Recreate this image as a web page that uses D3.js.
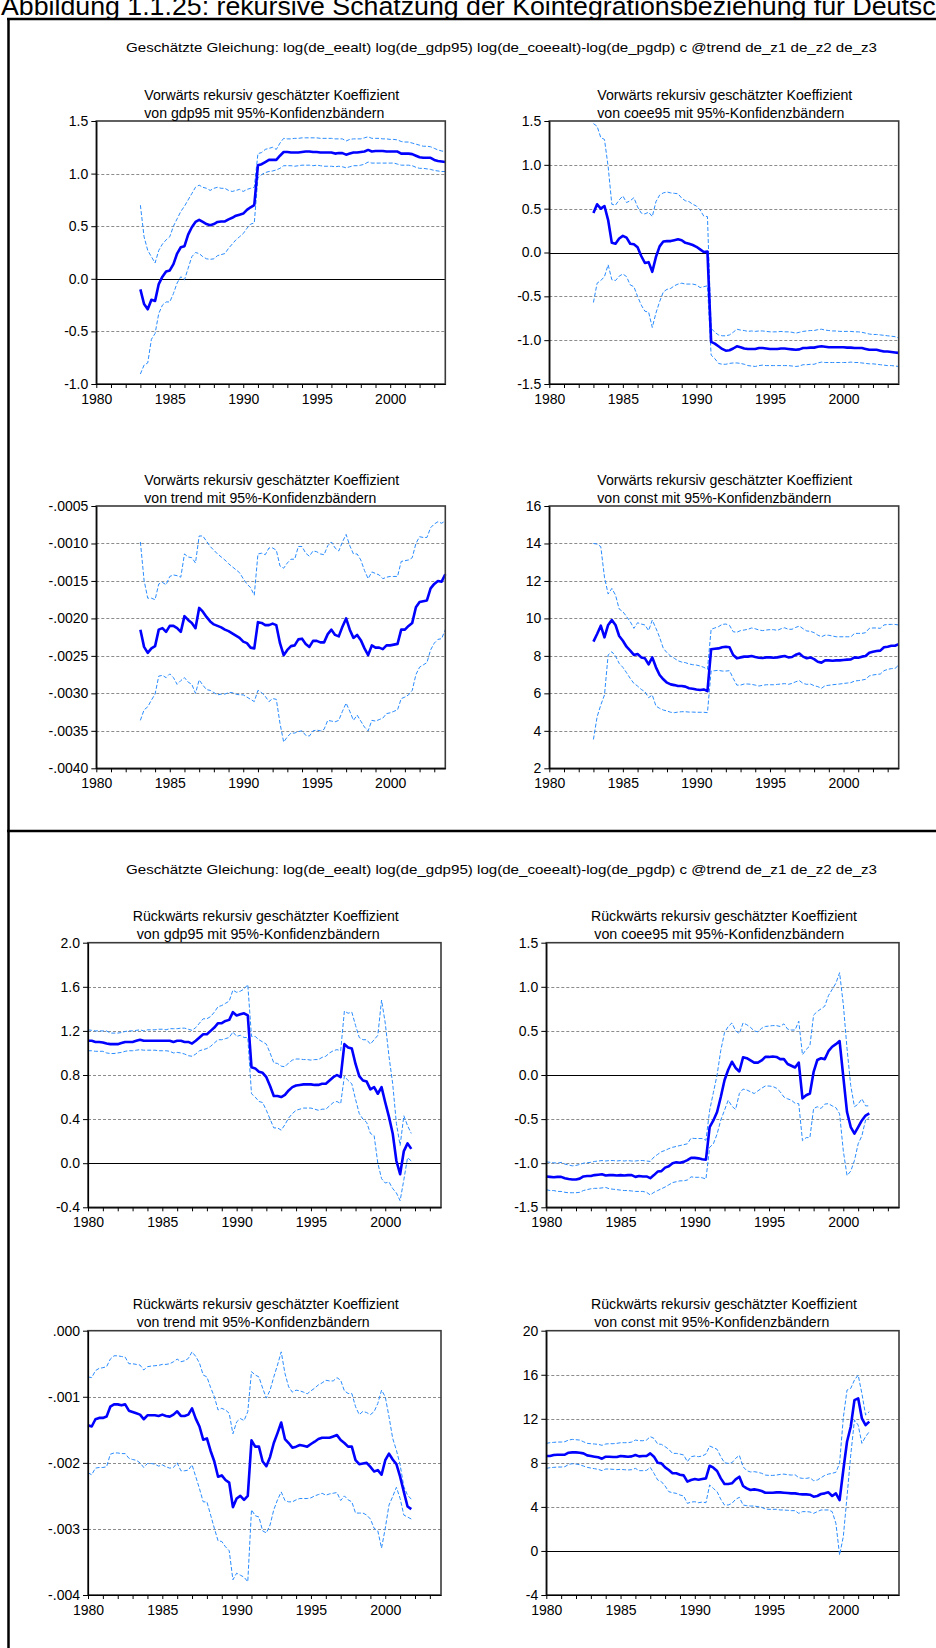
<!DOCTYPE html>
<html>
<head>
<meta charset="utf-8">
<script src="https://cdn.jsdelivr.net/npm/d3@7"></script>
<style>
body { margin: 0; background: #fff; }
</style>
</head>
<body>
<div id="chart"></div>
<script>
// quarterly estimates, forward recursion runs 1983Q1-2003Q4, backward 1980Q1-2001Q4
var fwdStart = 1983;
var bwdStart = 1980;

var headline = "Abbildung 1.1.25: rekursive Schätzung der Kointegrationsbeziehung für Deutschland";
var equation = "Geschätzte Gleichung: log(de_eealt) log(de_gdp95) log(de_coeealt)-log(de_pgdp) c @trend  de_z1 de_z2 de_z3";
var fwdTitle = "Vorwärts rekursiv geschätzter Koeffizient";
var bwdTitle = "Rückwärts rekursiv geschätzter Koeffizient";
var subTitles = ["von gdp95 mit 95%-Konfidenzbändern", "von coee95 mit 95%-Konfidenzbändern",
                 "von trend mit 95%-Konfidenzbändern", "von const mit 95%-Konfidenzbändern"];

var yearTicks = [1980, 1981, 1982, 1983, 1984, 1985, 1986, 1987, 1988, 1989, 1990, 1991,
                 1992, 1993, 1994, 1995, 1996, 1997, 1998, 1999, 2000, 2001, 2002, 2003];
var yearLabels = [1980, 1985, 1990, 1995, 2000];

var fwdGdpTicks = [-1.0, -0.5, 0.0, 0.5, 1.0, 1.5];
var fwdCoeTicks = [-1.5, -1.0, -0.5, 0.0, 0.5, 1.0, 1.5];
var fwdTrendTicks = [-.0040, -.0035, -.0030, -.0025, -.0020, -.0015, -.0010, -.0005];
var fwdConstTicks = [2, 4, 6, 8, 10, 12, 14, 16];
var bwdGdpTicks = [-0.4, 0.0, 0.4, 0.8, 1.2, 1.6, 2.0];
var bwdCoeTicks = [-1.5, -1.0, -0.5, 0.0, 0.5, 1.0, 1.5];
var bwdTrendTicks = [-.004, -.003, -.002, -.001, .000];
var bwdConstTicks = [-4, 0, 4, 8, 12, 16, 20];

// forward: gdp95
var fwdGdpCoef = [
 -0.10, -0.24, -0.29, -0.20,  -0.21, -0.05, 0.02, 0.07,  0.08, 0.14, 0.24, 0.30,
 0.31, 0.42, 0.49, 0.54,  0.56, 0.54, 0.52, 0.51,  0.52, 0.54, 0.545, 0.545,
 0.565, 0.58, 0.60, 0.61,  0.62, 0.655, 0.68, 0.70,  1.08, 1.09, 1.11, 1.13,
 1.13, 1.13, 1.17, 1.205,  1.205, 1.20, 1.20, 1.20,  1.205, 1.21, 1.21, 1.205,
 1.205, 1.20, 1.20, 1.20,  1.20, 1.19, 1.195, 1.195,  1.18, 1.19, 1.20, 1.20,
 1.205, 1.21, 1.225, 1.21,  1.215, 1.215, 1.215, 1.21,  1.21, 1.21, 1.21, 1.19,
 1.19, 1.19, 1.185, 1.17,  1.155, 1.15, 1.15, 1.15,  1.13, 1.12, 1.115, 1.11];
var fwdGdpUp = [
 0.70, 0.40, 0.27, 0.21,  0.15, 0.27, 0.33, 0.37,  0.40, 0.50, 0.57, 0.64,
 0.69, 0.75, 0.81, 0.87,  0.89, 0.87, 0.86, 0.84,  0.86, 0.87, 0.86, 0.86,
 0.84, 0.83, 0.84, 0.85,  0.83, 0.85, 0.86, 0.87,  1.19, 1.20, 1.23, 1.24,
 1.25, 1.23, 1.29, 1.335,  1.33, 1.33, 1.335, 1.335,  1.34, 1.34, 1.34, 1.34,
 1.34, 1.335, 1.335, 1.335,  1.335, 1.33, 1.33, 1.33,  1.31, 1.325, 1.33, 1.33,
 1.33, 1.34, 1.35, 1.335,  1.335, 1.335, 1.33, 1.33,  1.325, 1.325, 1.32, 1.305,
 1.30, 1.30, 1.29, 1.28,  1.27, 1.26, 1.26, 1.255,  1.24, 1.225, 1.215, 1.21];
var fwdGdpLo = [
 -0.905, -0.82, -0.80, -0.575,  -0.52, -0.33, -0.25, -0.22,  -0.22, -0.14, -0.04, 0.02,
 -0.01, 0.10, 0.21, 0.25,  0.24, 0.21, 0.19, 0.185,  0.19, 0.22, 0.23, 0.24,
 0.29, 0.33, 0.37, 0.40,  0.43, 0.48, 0.52, 0.53,  0.96, 0.99, 1.01, 1.02,
 1.025, 1.035, 1.05, 1.075,  1.075, 1.075, 1.07, 1.075,  1.08, 1.08, 1.08, 1.075,
 1.08, 1.075, 1.07, 1.07,  1.07, 1.065, 1.07, 1.065,  1.055, 1.065, 1.075, 1.075,
 1.08, 1.09, 1.11, 1.10,  1.10, 1.10, 1.10, 1.10,  1.10, 1.10, 1.09, 1.08,
 1.08, 1.08, 1.075, 1.06,  1.05, 1.05, 1.045, 1.04,  1.03, 1.025, 1.02, 1.02];

// forward: coee95
var fwdCoeCoef = [
 0.45, 0.55, 0.50, 0.53,  0.37, 0.11, 0.10, 0.16,  0.19, 0.17, 0.10, 0.095,
 0.06, -0.04, -0.12, -0.11,  -0.22, -0.05, 0.07, 0.125,  0.13, 0.13, 0.14, 0.15,
 0.14, 0.11, 0.10, 0.085,  0.065, 0.035, 0.005, 0.01,  -1.02, -1.04, -1.07, -1.10,
 -1.12, -1.115, -1.095, -1.07,  -1.08, -1.095, -1.10, -1.10,  -1.10, -1.09, -1.09, -1.095,
 -1.10, -1.10, -1.10, -1.095,  -1.095, -1.10, -1.105, -1.11,  -1.105, -1.09, -1.09, -1.085,
 -1.085, -1.075, -1.07, -1.075,  -1.08, -1.08, -1.08, -1.08,  -1.08, -1.085, -1.085, -1.09,
 -1.09, -1.09, -1.10, -1.11,  -1.11, -1.11, -1.12, -1.13,  -1.13, -1.135, -1.14, -1.145];
var fwdCoeUp = [
 1.47, 1.44, 1.31, 1.29,  0.98, 0.55, 0.54, 0.60,  0.645, 0.57, 0.59, 0.625,
 0.52, 0.45, 0.44, 0.46,  0.41, 0.58, 0.655, 0.68,  0.69, 0.68, 0.675, 0.67,
 0.62, 0.59, 0.58, 0.55,  0.53, 0.485, 0.415, 0.41,  -0.865, -0.91, -0.94, -0.95,
 -0.95, -0.94, -0.91, -0.875,  -0.885, -0.89, -0.90, -0.895,  -0.90, -0.895, -0.895, -0.90,
 -0.905, -0.905, -0.905, -0.90,  -0.905, -0.905, -0.91, -0.92,  -0.91, -0.90, -0.895, -0.89,
 -0.89, -0.88, -0.875, -0.885,  -0.89, -0.895, -0.895, -0.90,  -0.90, -0.90, -0.90, -0.905,
 -0.905, -0.91, -0.92, -0.93,  -0.935, -0.935, -0.94, -0.945,  -0.95, -0.955, -0.96, -0.975];
var fwdCoeLo = [
 -0.57, -0.35, -0.32, -0.275,  -0.14, -0.31, -0.32, -0.27,  -0.245, -0.275, -0.37, -0.39,
 -0.50, -0.60, -0.67, -0.68,  -0.855, -0.69, -0.56, -0.45,  -0.42, -0.41, -0.38, -0.36,
 -0.35, -0.36, -0.36, -0.36,  -0.37, -0.40, -0.39, -0.38,  -1.17, -1.21, -1.265, -1.275,
 -1.275, -1.265, -1.26, -1.26,  -1.265, -1.275, -1.29, -1.295,  -1.30, -1.29, -1.285, -1.29,
 -1.29, -1.29, -1.29, -1.29,  -1.29, -1.29, -1.295, -1.30,  -1.295, -1.28, -1.28, -1.275,
 -1.275, -1.26, -1.25, -1.255,  -1.255, -1.255, -1.255, -1.255,  -1.255, -1.255, -1.25, -1.255,
 -1.255, -1.26, -1.265, -1.27,  -1.27, -1.275, -1.28, -1.285,  -1.29, -1.29, -1.295, -1.30];

// forward: trend
var fwdTrendCoef = [
 -.00215, -.00238, -.00246, -.00240,  -.00237, -.00215, -.00213, -.00218,  -.00210, -.00210, -.00213, -.00218,
 -.00197, -.00202, -.00206, -.00213,  -.00186, -.00191, -.00198, -.00204,  -.00208, -.00210, -.00212, -.00215,
 -.00217, -.00220, -.00223, -.00226,  -.00231, -.00233, -.00239, -.00240,  -.00205, -.00206, -.00209, -.00209,
 -.00207, -.00209, -.00233, -.00249,  -.00242, -.00237, -.00236, -.00228,  -.00227, -.00234, -.00238, -.00230,
 -.00230, -.00232, -.00232, -.00221,  -.00215, -.00222, -.00224, -.00211,  -.00200, -.00215, -.00226, -.00222,
 -.00229, -.00240, -.00249, -.00236,  -.00239, -.00239, -.00241, -.00236,  -.00236, -.00235, -.00234, -.00215,
 -.00215, -.00210, -.00206, -.00185,  -.00178, -.00177, -.00176, -.00160,  -.00154, -.00150, -.00151, -.00141];
var fwdTrendUp = [
 -.00098, -.00149, -.00173, -.00173,  -.00175, -.00154, -.00152, -.00155,  -.00144, -.00142, -.00143, -.00145,
 -.00114, -.00118, -.00119, -.00126,  -.00090, -.00090, -.00097, -.00104,  -.00109, -.00114, -.00118, -.00122,
 -.00127, -.00131, -.00135, -.00139,  -.00147, -.00154, -.00159, -.00169,  -.00114, -.00113, -.00115, -.00106,
 -.00106, -.00109, -.00130, -.00133,  -.00126, -.00121, -.00121, -.00104,  -.00104, -.00113, -.00117, -.00110,
 -.00111, -.00114, -.00115, -.00103,  -.00098, -.00106, -.00110, -.00098,  -.00088, -.00103, -.00114, -.00114,
 -.00122, -.00136, -.00147, -.00138,  -.00140, -.00142, -.00147, -.00145,  -.00144, -.00144, -.00144, -.00124,
 -.00123, -.00122, -.00119, -.00100,  -.00091, -.00092, -.00092, -.00079,  -.00074, -.00071, -.00073, -.00070];
var fwdTrendLo = [
 -.00336, -.00322, -.00318, -.00309,  -.00301, -.00277, -.00276, -.00279,  -.00274, -.00279, -.00288, -.00283,
 -.00279, -.00285, -.00288, -.00300,  -.00282, -.00289, -.00295, -.00296,  -.00299, -.00302, -.00301, -.00301,
 -.00299, -.00299, -.00301, -.00302,  -.00302, -.00305, -.00308, -.00311,  -.00296, -.00299, -.00304, -.00311,
 -.00307, -.00308, -.00340, -.00365,  -.00358, -.00353, -.00353, -.00351,  -.00350, -.00356, -.00357, -.00350,
 -.00349, -.00350, -.00348, -.00336,  -.00337, -.00338, -.00336, -.00324,  -.00313, -.00324, -.00336, -.00329,
 -.00337, -.00345, -.00350, -.00336,  -.00337, -.00335, -.00333, -.00327,  -.00326, -.00324, -.00322, -.00307,
 -.00305, -.00302, -.00296, -.00275,  -.00265, -.00262, -.00259, -.00242,  -.00233, -.00228, -.00227, -.00215];

// forward: const
var fwdConstCoef = [
 8.76, 9.17, 9.61, 8.99,  9.65, 9.91, 9.65, 9.06,  8.81, 8.49, 8.28, 8.05,
 8.10, 7.92, 7.87, 7.55,  7.92, 7.39, 6.98, 6.75,  6.57, 6.48, 6.44, 6.39,
 6.39, 6.36, 6.27, 6.25,  6.21, 6.18, 6.21, 6.12,  8.35, 8.38, 8.40, 8.46,
 8.49, 8.46, 8.05, 7.87,  7.92, 7.96, 7.96, 7.99,  7.94, 7.90, 7.89, 7.92,
 7.92, 7.90, 7.92, 7.96,  7.99, 7.92, 7.94, 8.06,  8.13, 7.96, 7.87, 7.92,
 7.83, 7.69, 7.64, 7.76,  7.76, 7.74, 7.76, 7.76,  7.78, 7.80, 7.81, 7.92,
 7.90, 7.96, 7.99, 8.17,  8.22, 8.26, 8.28, 8.46,  8.49, 8.54, 8.54, 8.63];
var fwdConstUp = [
 14.0, 13.97, 13.83, 12.2,  11.3, 11.6, 11.25, 10.5,  10.36, 10.1, 9.83, 9.47,
 9.77, 9.70, 9.65, 9.35,  9.91, 9.47, 8.99, 8.40,  8.17, 7.99, 7.87, 7.74,
 7.67, 7.64, 7.57, 7.53,  7.51, 7.46, 7.39, 7.28,  9.42, 9.49, 9.56, 9.68,
 9.70, 9.63, 9.29, 9.26,  9.35, 9.38, 9.42, 9.49,  9.45, 9.38, 9.35, 9.38,
 9.40, 9.40, 9.36, 9.45,  9.50, 9.42, 9.42, 9.52,  9.59, 9.45, 9.33, 9.31,
 9.24, 9.11, 9.02, 9.11,  9.10, 9.06, 9.02, 9.02,  9.02, 9.02, 9.02, 9.20,
 9.20, 9.20, 9.24, 9.47,  9.49, 9.49, 9.47, 9.65,  9.68, 9.68, 9.68, 9.65];
var fwdConstLo = [
 3.54, 4.75, 5.38, 5.91,  8.05, 8.22, 7.99, 7.60,  7.39, 7.10, 6.80, 6.53,
 6.39, 6.21, 6.09, 5.77,  5.91, 5.32, 5.20, 5.11,  5.06, 4.99, 4.97, 5.00,
 5.02, 5.02, 5.00, 5.00,  4.99, 4.99, 4.99, 4.97,  7.19, 7.21, 7.23, 7.19,
 7.19, 7.21, 6.80, 6.44,  6.44, 6.50, 6.50, 6.48,  6.44, 6.39, 6.43, 6.46,
 6.46, 6.46, 6.48, 6.50,  6.52, 6.48, 6.53, 6.62,  6.68, 6.53, 6.48, 6.50,
 6.41, 6.36, 6.27, 6.41,  6.43, 6.46, 6.48, 6.50,  6.53, 6.55, 6.57, 6.66,
 6.68, 6.71, 6.75, 6.93,  6.98, 7.01, 7.03, 7.21,  7.28, 7.32, 7.33, 7.51];

// backward: gdp95
var bwdGdpCoef = [
 1.11, 1.11, 1.10, 1.10,  1.095, 1.085, 1.08, 1.08,  1.08, 1.09, 1.10, 1.10,
 1.10, 1.11, 1.12, 1.11,  1.11, 1.11, 1.11, 1.11,  1.11, 1.11, 1.11, 1.10,
 1.11, 1.11, 1.10, 1.10,  1.085, 1.11, 1.14, 1.17,  1.17, 1.20, 1.23, 1.27,
 1.27, 1.29, 1.30, 1.37,  1.34, 1.35, 1.36, 1.34,  0.87, 0.86, 0.83, 0.82,
 0.78, 0.70, 0.61, 0.61,  0.60, 0.62, 0.66, 0.69,  0.705, 0.71, 0.715, 0.715,
 0.715, 0.71, 0.71, 0.72,  0.72, 0.75, 0.78, 0.80,  0.78, 1.08, 1.05, 1.04,
 0.90, 0.79, 0.75, 0.74,  0.67, 0.69, 0.63, 0.69,  0.55, 0.42, 0.27, 0.02,
 -0.10, 0.11, 0.18, 0.13];
var bwdGdpUp = [
 1.21, 1.205, 1.20, 1.20,  1.20, 1.20, 1.18, 1.18,  1.18, 1.185, 1.195, 1.20,
 1.20, 1.205, 1.21, 1.20,  1.21, 1.21, 1.21, 1.215,  1.215, 1.21, 1.22, 1.22,
 1.22, 1.225, 1.225, 1.215,  1.205, 1.23, 1.27, 1.31,  1.31, 1.33, 1.37, 1.42,
 1.43, 1.45, 1.47, 1.57,  1.55, 1.56, 1.58, 1.62,  1.15, 1.15, 1.12, 1.10,
 1.08, 1.00, 0.91, 0.905,  0.88, 0.875, 0.91, 0.935,  0.945, 0.945, 0.94, 0.94,
 0.935, 0.94, 0.94, 0.96,  0.97, 1.00, 1.02, 1.03,  1.02, 1.38, 1.36, 1.37,
 1.25, 1.14, 1.12, 1.12,  1.08, 1.12, 1.16, 1.48,  1.27, 0.97, 0.72, 0.36,
 0.16, 0.43, 0.34, 0.27];
var bwdGdpLo = [
 1.02, 1.02, 1.015, 1.015,  1.015, 1.00, 0.995, 0.995,  1.00, 1.005, 1.015, 1.02,
 1.02, 1.025, 1.03, 1.025,  1.025, 1.025, 1.025, 1.02,  1.02, 1.02, 1.015, 1.00,
 1.005, 1.00, 0.99, 0.975,  0.97, 0.99, 1.02, 1.03,  1.04, 1.06, 1.09, 1.12,
 1.12, 1.13, 1.14, 1.19,  1.15, 1.16, 1.14, 1.14,  0.63, 0.60, 0.56, 0.55,
 0.48, 0.40, 0.32, 0.32,  0.30, 0.35, 0.41, 0.45,  0.48, 0.49, 0.50, 0.50,
 0.50, 0.49, 0.48, 0.49,  0.49, 0.52, 0.55, 0.56,  0.54, 0.79, 0.75, 0.72,
 0.58, 0.45, 0.40, 0.37,  0.27, 0.25, 0.00, -0.14,  -0.18, -0.17, -0.23, -0.27,
 -0.34, -0.15, 0.05, 0.02];

// backward: coee95
var bwdCoeCoef = [
 -1.15, -1.155, -1.16, -1.155,  -1.155, -1.17, -1.18, -1.185,  -1.185, -1.175, -1.15, -1.145,
 -1.145, -1.135, -1.13, -1.125,  -1.14, -1.135, -1.135, -1.14,  -1.135, -1.14, -1.135, -1.135,
 -1.155, -1.145, -1.15, -1.15,  -1.17, -1.135, -1.095, -1.09,  -1.05, -1.035, -1.00, -0.99,
 -0.995, -0.985, -0.965, -0.94,  -0.94, -0.945, -0.955, -0.96,  -0.59, -0.515, -0.42, -0.25,
 -0.06, 0.06, 0.15, 0.08,  0.04, 0.20, 0.19, 0.165,  0.14, 0.14, 0.165, 0.205,
 0.205, 0.21, 0.205, 0.18,  0.18, 0.125, 0.105, 0.085,  0.14, -0.265, -0.23, -0.21,
 0.035, 0.17, 0.19, 0.18,  0.27, 0.32, 0.35, 0.385,  -0.02, -0.42, -0.59, -0.665,
 -0.59, -0.515, -0.46, -0.435];
var bwdCoeUp = [
 -0.985, -0.99, -0.995, -1.00,  -0.99, -1.01, -1.02, -1.03,  -1.025, -1.015, -1.00, -0.995,
 -0.99, -0.98, -0.975, -0.97,  -0.975, -0.97, -0.97, -0.975,  -0.97, -0.975, -0.97, -0.975,
 -0.975, -0.97, -0.97, -0.975,  -0.98, -0.93, -0.90, -0.87,  -0.855, -0.835, -0.82, -0.81,
 -0.80, -0.79, -0.78, -0.715,  -0.72, -0.72, -0.72, -0.74,  -0.40, -0.20, 0.00, 0.28,
 0.48, 0.55, 0.59, 0.50,  0.47, 0.59, 0.57, 0.54,  0.50, 0.49, 0.53, 0.55,
 0.555, 0.56, 0.56, 0.55,  0.58, 0.52, 0.51, 0.51,  0.61, 0.23, 0.29, 0.33,
 0.68, 0.72, 0.75, 0.78,  0.90, 0.97, 1.04, 1.16,  0.80, 0.30, -0.12, -0.36,
 -0.33, -0.27, -0.35, -0.35];
var bwdCoeLo = [
 -1.30, -1.31, -1.31, -1.32,  -1.32, -1.33, -1.335, -1.335,  -1.335, -1.33, -1.31, -1.30,
 -1.29, -1.285, -1.285, -1.28,  -1.275, -1.29, -1.295, -1.30,  -1.305, -1.31, -1.31, -1.315,
 -1.32, -1.32, -1.32, -1.33,  -1.36, -1.33, -1.31, -1.29,  -1.27, -1.245, -1.22, -1.21,
 -1.20, -1.20, -1.19, -1.155,  -1.16, -1.16, -1.165, -1.18,  -0.82, -0.78, -0.67, -0.51,
 -0.40, -0.285, -0.355, -0.39,  -0.21, -0.16, -0.17, -0.19,  -0.21, -0.18, -0.15, -0.125,
 -0.125, -0.13, -0.15, -0.19,  -0.25, -0.27, -0.285, -0.32,  -0.325, -0.745, -0.71, -0.71,
 -0.38, -0.36, -0.38, -0.33,  -0.325, -0.35, -0.37, -0.44,  -0.86, -1.14, -1.09, -0.97,
 -0.78, -0.69, -0.51, -0.48];

// backward: trend
var bwdTrendCoef = [
 -.00143, -.00145, -.00134, -.00132,  -.00132, -.00130, -.00115, -.001115,  -.001115, -.00113, -.001115, -.00121,
 -.00123, -.00125, -.00127, -.00134,  -.00128, -.00128, -.00128, -.00129,  -.00127, -.00129, -.00130, -.00127,
 -.00122, -.00129, -.00129, -.00127,  -.001175, -.00133, -.00145, -.00165,  -.00163, -.00182, -.00198, -.00221,
 -.00219, -.00226, -.00230, -.00267,  -.00254, -.00250, -.00256, -.00250,  -.00166, -.001755, -.001755, -.00198,
 -.00205, -.00191, -.00170, -.00155,  -.00139, -.00164, -.00170, -.00177,  -.001755, -.00173, -.00174, -.001755,
 -.001715, -.00168, -.00164, -.00162,  -.00162, -.00162, -.00160, -.00158,  -.001655, -.00170, -.001755, -.001755,
 -.00196, -.00202, -.00201, -.00200,  -.00206, -.00213, -.00211, -.00218,  -.00196, -.00186, -.00195, -.00202,
 -.00221, -.00244, -.00266, -.00270];
var bwdTrendUp = [
 -.00070, -.00071, -.000605, -.00057,  -.00056, -.000545, -.00043, -.00038,  -.00038, -.00039, -.00040, -.00050,
 -.00050, -.00051, -.00052, -.000595,  -.000545, -.000535, -.00053, -.000525,  -.00051, -.00051, -.00050, -.00047,
 -.00043, -.00047, -.000455, -.00042,  -.00032, -.00039, -.00049, -.00067,  -.00070, -.00086, -.00100, -.00120,
 -.001175, -.00120, -.00125, -.00156,  -.00138, -.00133, -.00136, -.001225,  -.00062, -.00067, -.00070, -.00087,
 -.00102, -.00090, -.00070, -.00052,  -.00032, -.000645, -.00085, -.00093,  -.00090, -.00091, -.00093, -.000955,
 -.00091, -.00087, -.00082, -.00079,  -.00075, -.00076, -.00076, -.00071,  -.00075, -.00091, -.00095, -.00095,
 -.00115, -.00127, -.00122, -.00124,  -.00127, -.001225, -.00110, -.00090,  -.00100, -.00130, -.00163, -.00181,
 -.00203, -.00236, -.00249, -.00255];
var bwdTrendLo = [
 -.00215, -.00218, -.00208, -.00207,  -.00207, -.00206, -.00187, -.00185,  -.00185, -.00186, -.00186, -.00193,
 -.00195, -.00196, -.00200, -.00207,  -.00201, -.00201, -.00202, -.00205,  -.00203, -.00206, -.00208, -.00207,
 -.00200, -.00212, -.00212, -.00211,  -.00203, -.00221, -.00239, -.00259,  -.00259, -.00279, -.00299, -.00318,
 -.00319, -.00327, -.00333, -.00377,  -.00367, -.00370, -.00373, -.00380,  -.00271, -.00280, -.00282, -.00303,
 -.00306, -.00294, -.00271, -.00256,  -.00244, -.00257, -.00259, -.00259,  -.00256, -.00254, -.00254, -.00254,
 -.00253, -.00250, -.00248, -.00246,  -.00249, -.00247, -.00246, -.00245,  -.00257, -.00250, -.00256, -.00259,
 -.00276, -.00276, -.00276, -.00279,  -.00285, -.00299, -.00303, -.00329,  -.00299, -.00264, -.00251, -.00237,
 -.00254, -.00279, -.00282, -.00285];

// backward: const
var bwdConstCoef = [
 8.62, 8.62, 8.71, 8.74,  8.74, 8.74, 8.92, 8.95,  8.95, 8.92, 8.86, 8.68,
 8.62, 8.56, 8.50, 8.38,  8.56, 8.56, 8.53, 8.53,  8.62, 8.59, 8.56, 8.59,
 8.71, 8.59, 8.62, 8.62,  8.86, 8.56, 8.01, 7.95,  7.59, 7.35, 7.05, 7.05,
 6.92, 6.86, 6.29, 6.44,  6.53, 6.47, 6.53, 6.59,  7.74, 7.56, 7.26, 6.59,
 6.08, 6.08, 6.14, 6.50,  6.74, 5.90, 5.68, 5.53,  5.59, 5.53, 5.44, 5.29,
 5.29, 5.29, 5.32, 5.32,  5.29, 5.26, 5.23, 5.23,  5.17, 5.14, 5.14, 5.11,
 4.93, 4.99, 5.17, 5.23,  5.32, 4.99, 5.23, 4.62,  7.35, 9.92, 11.28, 13.70,
 13.86, 12.04, 11.43, 11.74];
var bwdConstUp = [
 9.77, 9.83, 9.86, 9.89,  9.89, 9.92, 10.07, 10.13,  10.10, 10.07, 9.92, 9.77,
 9.74, 9.71, 9.68, 9.59,  9.71, 9.74, 9.74, 9.77,  9.83, 9.83, 9.83, 9.89,
 10.07, 10.01, 10.01, 10.07,  10.38, 10.22, 9.71, 9.68,  9.47, 9.23, 8.86, 8.86,
 8.80, 8.71, 8.11, 8.56,  8.62, 8.56, 8.62, 8.80,  9.53, 9.38, 9.23, 8.56,
 8.01, 7.95, 8.01, 8.41,  8.68, 7.65, 7.29, 7.17,  7.20, 7.14, 7.05, 6.89,
 6.86, 6.86, 6.89, 6.95,  6.98, 6.92, 6.89, 6.92,  6.65, 6.59, 6.59, 6.65,
 6.38, 6.44, 6.65, 6.86,  6.98, 7.05, 7.14, 7.95,  12.10, 14.61, 14.76, 15.52,
 15.97, 14.31, 12.34, 12.65];
var bwdConstLo = [
 7.50, 7.56, 7.59, 7.62,  7.62, 7.65, 7.86, 7.92,  7.89, 7.83, 7.71, 7.59,
 7.53, 7.47, 7.41, 7.29,  7.44, 7.44, 7.41, 7.38,  7.41, 7.38, 7.35, 7.38,
 7.50, 7.29, 7.29, 7.32,  7.59, 7.05, 6.44, 6.29,  5.90, 5.38, 5.29, 5.23,
 5.08, 4.99, 4.32, 4.44,  4.47, 4.38, 4.44, 4.38,  5.99, 5.68, 5.38, 4.69,
 4.17, 4.17, 4.32, 4.69,  4.87, 4.17, 4.11, 4.08,  4.08, 4.02, 3.96, 3.81,
 3.78, 3.78, 3.78, 3.72,  3.72, 3.69, 3.66, 3.66,  3.41, 3.57, 3.57, 3.54,
 3.41, 3.57, 3.72, 3.72,  3.72, 3.57, 2.51, -0.37,  1.30, 4.93, 8.71, 11.89,
 11.43, 9.77, 10.38, 10.83];

function init() {

	var width = 936;
	var height = 1648;
	var narrow = "'Liberation Sans Narrow', 'Arial Narrow', 'Liberation Sans', Arial, sans-serif";
	var sans = "'Liberation Sans', Arial, Helvetica, sans-serif";

	// plain hyphen as minus, no leading zero on the trend scales
	var hyphen = function(s) { return s.replace("\u2212", "-"); };
	var fmt1 = function(d) { return hyphen(d3.format(".1f")(d)); };
	var fmtInt = function(d) { return hyphen(d3.format("d")(d)); };
	var fmtTrend4 = function(d) { return hyphen(d3.format(".4f")(d)).replace("0.", "."); };
	var fmtTrend3 = function(d) { return hyphen(d3.format(".3f")(d)).replace("0.", "."); };

	var svg = d3.select("#chart")
	            .append("svg")
				.attr("width", width)
				.attr("height", height)
				.style("background", "#fff");

	// headline, cut off by the page top and right edge as in the source
	svg.append("text")
	   .attr("x", 1)
	   .attr("y", 15)
	   .attr("font-family", sans)
	   .attr("font-size", "26px")
	   .attr("textLength", 1000)
	   .attr("lengthAdjust", "spacingAndGlyphs")
	   .attr("fill", "#000")
	   .text(headline);

	// the two framing boxes
	svg.append("line").attr("x1", 7).attr("x2", width).attr("y1", 19).attr("y2", 19)
	   .attr("stroke", "#000").attr("stroke-width", 2.5);
	svg.append("line").attr("x1", 7).attr("x2", width).attr("y1", 831).attr("y2", 831)
	   .attr("stroke", "#000").attr("stroke-width", 2.5);
	svg.append("line").attr("x1", 8.5).attr("x2", 8.5).attr("y1", 18).attr("y2", height)
	   .attr("stroke", "#000").attr("stroke-width", 2.5);

	[52, 874].forEach(function(yy) {
		svg.append("text")
		   .attr("x", 126)
		   .attr("y", yy)
		   .attr("font-family", narrow)
		   .attr("font-size", "13.5px")
		   .attr("textLength", 751)
		   .attr("lengthAdjust", "spacingAndGlyphs")
		   .attr("fill", "#000")
		   .text(equation);
	});

	var panels = [
		{ left: 96.3, right: 445.3, top: 121, bottom: 384, ticks: fwdGdpTicks, fmt: fmt1,
		  coef: fwdGdpCoef, up: fwdGdpUp, lo: fwdGdpLo, start: fwdStart,
		  t1: fwdTitle, t2: subTitles[0], w1: 255, w2: 240, dx1: 48, dx2: 48 },
		{ left: 549.3, right: 898.7, top: 121, bottom: 384, ticks: fwdCoeTicks, fmt: fmt1,
		  coef: fwdCoeCoef, up: fwdCoeUp, lo: fwdCoeLo, start: fwdStart,
		  t1: fwdTitle, t2: subTitles[1], w1: 255, w2: 247, dx1: 48, dx2: 48 },
		{ left: 96.3, right: 445.3, top: 506, bottom: 768.3, ticks: fwdTrendTicks, fmt: fmtTrend4,
		  coef: fwdTrendCoef, up: fwdTrendUp, lo: fwdTrendLo, start: fwdStart,
		  t1: fwdTitle, t2: subTitles[2], w1: 255, w2: 232, dx1: 48, dx2: 48 },
		{ left: 549.3, right: 898.7, top: 506, bottom: 768.3, ticks: fwdConstTicks, fmt: fmtInt,
		  coef: fwdConstCoef, up: fwdConstUp, lo: fwdConstLo, start: fwdStart,
		  t1: fwdTitle, t2: subTitles[3], w1: 255, w2: 234, dx1: 48, dx2: 48 },
		{ left: 88, right: 441, top: 942.7, bottom: 1207.3, ticks: bwdGdpTicks, fmt: fmt1,
		  coef: bwdGdpCoef, up: bwdGdpUp, lo: bwdGdpLo, start: bwdStart,
		  t1: bwdTitle, t2: subTitles[0], w1: 266, w2: 243, dx1: 44.7, dx2: 48.7 },
		{ left: 546.3, right: 899, top: 942.7, bottom: 1207.3, ticks: bwdCoeTicks, fmt: fmt1,
		  coef: bwdCoeCoef, up: bwdCoeUp, lo: bwdCoeLo, start: bwdStart,
		  t1: bwdTitle, t2: subTitles[1], w1: 266, w2: 250, dx1: 44.7, dx2: 48 },
		{ left: 88, right: 441, top: 1330.7, bottom: 1595, ticks: bwdTrendTicks, fmt: fmtTrend3,
		  coef: bwdTrendCoef, up: bwdTrendUp, lo: bwdTrendLo, start: bwdStart,
		  t1: bwdTitle, t2: subTitles[2], w1: 266, w2: 233, dx1: 44.7, dx2: 48.7 },
		{ left: 546.3, right: 899, top: 1330.7, bottom: 1595, ticks: bwdConstTicks, fmt: fmtInt,
		  coef: bwdConstCoef, up: bwdConstUp, lo: bwdConstLo, start: bwdStart,
		  t1: bwdTitle, t2: subTitles[3], w1: 266, w2: 235, dx1: 44.7, dx2: 48 }
	];

	panels.forEach(function(p) {

		var xScale = d3.scaleLinear()
		               .domain([1980, 2003.75])
					   .range([p.left, p.right]);

		var yScale = d3.scaleLinear()
		               .domain(d3.extent(p.ticks))
					   .range([p.bottom, p.top]);

		var g = svg.append("g");

		// grid, zero line solid
		g.selectAll("line.grid")
		 .data(p.ticks.slice(1, -1))
		 .enter()
		 .append("line")
		 .attr("class", "grid")
		 .attr("x1", p.left)
		 .attr("x2", p.right)
		 .attr("y1", function(d) { return Math.round(yScale(d)) + 0.5; })
		 .attr("y2", function(d) { return Math.round(yScale(d)) + 0.5; })
		 .attr("stroke", function(d) { return d === 0 ? "#000" : "#8c8c8c"; })
		 .attr("stroke-width", function(d) { return d === 0 ? 1.2 : 1; })
		 .attr("stroke-dasharray", function(d) { return d === 0 ? null : "3,2"; });

		var line = d3.line()
		             .x(function(d, i) { return xScale(p.start + i * 0.25); })
					 .y(function(d) { return yScale(d); });

		[p.up, p.lo].forEach(function(band) {
			g.append("path")
			 .datum(band)
			 .attr("d", line)
			 .attr("fill", "none")
			 .attr("stroke", "#2a8cff")
			 .attr("stroke-width", 1)
			 .attr("stroke-dasharray", "4,2");
		});

		g.append("path")
		 .datum(p.coef)
		 .attr("d", line)
		 .attr("fill", "none")
		 .attr("stroke", "#0000ff")
		 .attr("stroke-width", 2.6)
		 .attr("stroke-linejoin", "round");

		// frame
		g.append("rect")
		 .attr("x", p.left)
		 .attr("y", p.top)
		 .attr("width", p.right - p.left)
		 .attr("height", p.bottom - p.top)
		 .attr("fill", "none")
		 .attr("stroke", "#3a3a3a")
		 .attr("stroke-width", 1.6);

		var yAxis = g.append("g")
		             .attr("transform", "translate(" + p.left + ",0)")
					 .call(d3.axisLeft(yScale)
					         .tickValues(p.ticks)
							 .tickFormat(p.fmt)
							 .tickSize(5)
							 .tickSizeOuter(0)
							 .tickPadding(3));

		var xAxis = g.append("g")
		             .attr("transform", "translate(0," + p.bottom + ")")
					 .call(d3.axisBottom(xScale)
					         .tickValues(yearTicks)
							 .tickFormat(function(d) { return yearLabels.indexOf(d) >= 0 ? d : ""; })
							 .tickSize(4)
							 .tickSizeOuter(0)
							 .tickPadding(6));

		[yAxis, xAxis].forEach(function(ax) {
			ax.attr("font-family", sans).attr("font-size", "14px");
			ax.selectAll("text").attr("fill", "#000");
			ax.selectAll("line").attr("stroke", "#000");
			ax.select(".domain").attr("stroke", "#000").attr("stroke-width", 1.2);
		});

		// two line panel title
		g.append("text")
		 .attr("x", p.left + p.dx1)
		 .attr("y", p.top - 21.5)
		 .attr("font-family", narrow)
		 .attr("font-size", "14px")
		 .attr("textLength", p.w1)
		 .attr("lengthAdjust", "spacingAndGlyphs")
		 .attr("fill", "#000")
		 .text(p.t1);

		g.append("text")
		 .attr("x", p.left + p.dx2)
		 .attr("y", p.top - 3.5)
		 .attr("font-family", narrow)
		 .attr("font-size", "14px")
		 .attr("textLength", p.w2)
		 .attr("lengthAdjust", "spacingAndGlyphs")
		 .attr("fill", "#000")
		 .text(p.t2);
	});

}
window.onload = init;
</script>
</body>
</html>
